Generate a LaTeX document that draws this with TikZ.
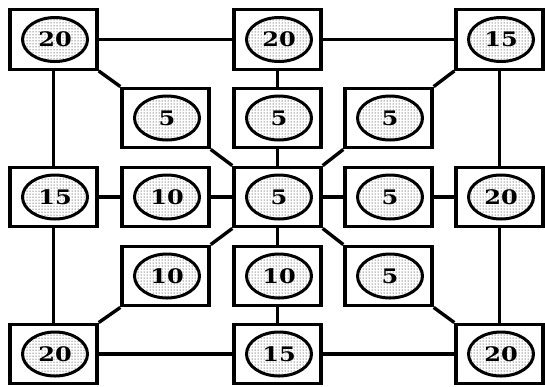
\documentclass[tikz,border=0pt]{standalone}
\usepackage{fontspec}
\newfontfamily\digitfont{DejaVu Serif}[BoldFont={DejaVu Serif Bold}]
\usetikzlibrary{shapes.geometric,patterns}
\tikzset{
  boxst/.style={draw, rectangle, line width=3.4pt, fill=white, minimum width=87pt, minimum height=59.5pt, inner sep=0pt},
  ellst/.style={draw, ellipse, line width=3pt, minimum width=65pt, minimum height=44pt, inner sep=0pt,
    preaction={fill=white}, pattern=dots, pattern color=black,
    font=\digitfont\bfseries\fontsize{20}{20}\selectfont},
  link/.style={line width=3.4pt}
}
\newcommand{\mycell}[4]{%
  \node[boxst] (#1) at (#2pt,-#3pt) {};
  \node[ellst] (#1-e) at ([xshift=1.5pt]#1.center) {\scalebox{1.2}[1]{#4}};
}
\begin{document}
\begin{tikzpicture}
\useasboundingbox (0,0) rectangle (545pt,-386pt);
\fill[white] (0,0) rectangle (545pt,-386pt);
% nodes
\mycell{TL}{53.5}{39.5}{20}
\mycell{TM}{277.5}{39.5}{20}
\mycell{TR}{499.5}{39.5}{15}
\mycell{AL}{165.5}{118}{5}
\mycell{AM}{277.5}{118}{5}
\mycell{AR}{388.5}{118}{5}
\mycell{ML}{53.5}{197}{15}
\mycell{MLL}{165.5}{197}{10}
\mycell{MC}{277.5}{197}{5}
\mycell{MRR}{388.5}{197}{5}
\mycell{MR}{499.5}{197}{20}
\mycell{BL2}{165.5}{276}{10}
\mycell{BM2}{277.5}{276}{10}
\mycell{BR2}{388.5}{276}{5}
\mycell{BL}{53.5}{354}{20}
\mycell{BM}{277.5}{354}{15}
\mycell{BR}{499.5}{354}{20}
% connectors
\draw[link] (TL) -- (TM);
\draw[link] (TM) -- (TR);
\draw[link] (BL) -- (BM);
\draw[link] (BM) -- (BR);
\draw[link] (TL) -- (ML);
\draw[link] (ML) -- (BL);
\draw[link] (TR) -- (MR);
\draw[link] (MR) -- (BR);
\draw[link] (TM) -- (AM);
\draw[link] (AM) -- (MC);
\draw[link] (MC) -- (BM2);
\draw[link] (BM2) -- (BM);
\draw[link] (ML) -- (MLL);
\draw[link] (MLL) -- (MC);
\draw[link] (MC) -- (MRR);
\draw[link] (MRR) -- (MR);
\draw[link] (TL.south east) -- (AL.north west);
\draw[link] (AL.south east) -- (MC.north west);
\draw[link] (TR.south west) -- (AR.north east);
\draw[link] (AR.south west) -- (MC.north east);
\draw[link] (MC.south west) -- (BL2.north east);
\draw[link] (BL2.south west) -- (BL.north east);
\draw[link] (MC.south east) -- (BR2.north west);
\draw[link] (BR2.south east) -- (BR.north west);
\end{tikzpicture}
\end{document}
